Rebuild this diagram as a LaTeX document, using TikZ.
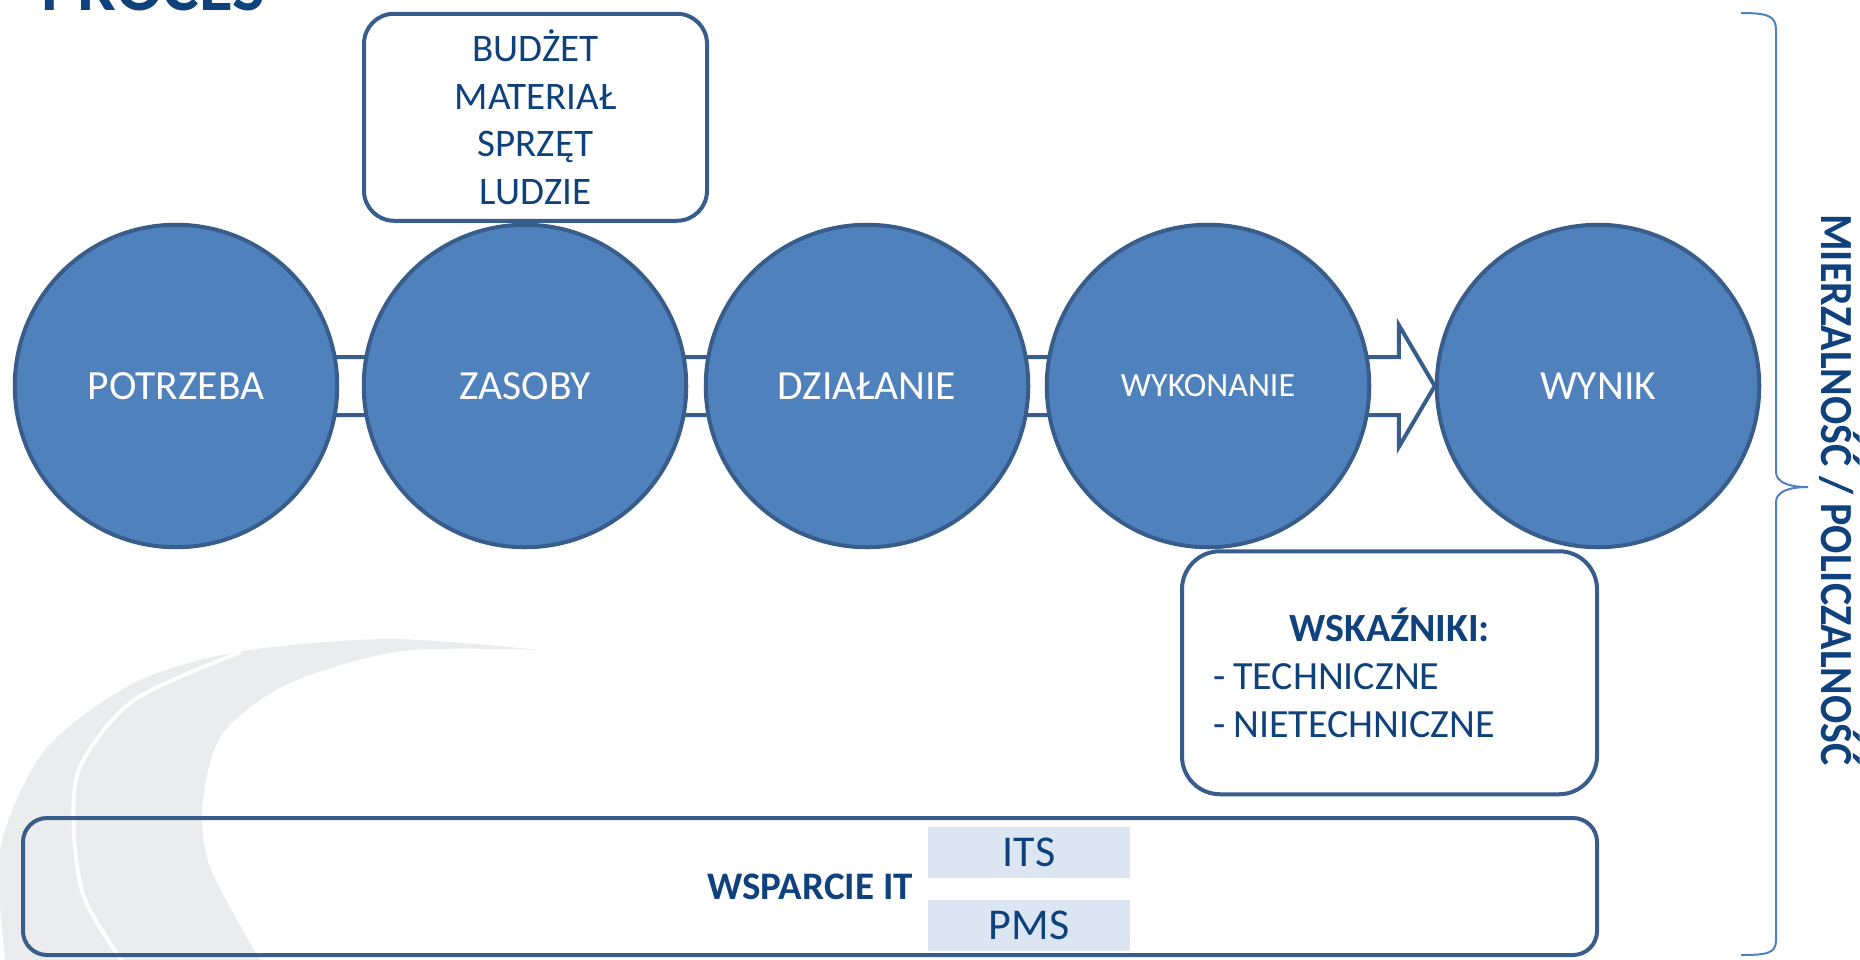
\documentclass[tikz,border=0pt]{standalone}
\usepackage{graphicx}
\usepackage{fontspec}
\setmainfont{Carlito}
\usetikzlibrary{
    positioning,   % For relative positioning (right=of ...)
    backgrounds,   % To draw the arrow behind the circles
    calc           % For shifted anchors
}

\definecolor{stagefill}{HTML}{4F81BD}
\definecolor{stageline}{HTML}{385D8A}
\definecolor{textblue}{HTML}{0F417D}
\definecolor{cellfill}{HTML}{DCE6F2}
\definecolor{swooshgray}{HTML}{EBECEE}

\begin{document}
\begin{tikzpicture}[
    x=1pt, y=-1pt,
    % Define styles
    stage/.style={circle, draw=stageline, line width=4pt, fill=stagefill, minimum size=322.5pt, inner sep=0pt, text=white, font=\fontsize{41.5}{50}\selectfont}, % Process step
    infobox/.style={rectangle, draw=stageline, line width=4pt, fill=white, rounded corners=30pt, text=textblue, inner sep=0pt, font=\fontsize{40}{48}\selectfont}, % Text box
    cell/.style={rectangle, fill=cellfill, minimum width=202pt, minimum height=51pt, inner sep=0pt, text=textblue, font=\fontsize{44}{50}\selectfont}, % IT system
    flowarrow/.style={draw=stageline, line width=4pt, fill=white, line join=miter}, % Block arrow
    bracket/.style={draw=stagefill, line width=2pt} % Curly bracket
]

\useasboundingbox (0,0) rectangle (1860,959);
\clip (0,0) rectangle (1860,959);

% ----- BACKGROUND SWOOSH -----
\fill[swooshgray] plot[smooth] coordinates {(6,965) (0,850) (45,750) (134,683) (237,652) (388,639) (540,650)}
    -- plot[smooth] coordinates {(540,650) (402,651) (290,683) (223,733) (203,800) (210,867) (263,965)} -- cycle;
\draw[white, line width=4pt] plot[smooth] coordinates {(241,652) (134,700) (80,767) (74,833) (85,900) (125,965)};

% ----- TITLE -----
\node (title) [anchor=base west, inner sep=0pt, text=textblue, font=\fontsize{69}{72}\selectfont\bfseries] at (41,10) {PROCES};

% ----- PROCESS STAGES -----
\node (potrzeba)  [stage] at (176,386) {POTRZEBA};
\node (zasoby)    [stage, right=22.5pt of potrzeba] {ZASOBY};
\node (dzialanie) [stage, right=15.5pt of zasoby] {DZIAŁANIE};
\node (wykonanie) [stage, right=14.5pt of dzialanie] {\fontsize{34}{40}\selectfont WYKONANIE};
\node (wynik)     [stage, right=63.5pt of wykonanie] {WYNIK};

% Block arrow behind the stages
\begin{pgfonlayer}{background}
    \draw [flowarrow] ($(potrzeba.center)+(0,-29)$) -- ($(wynik.west)+(-36,-29)$) -- ($(wynik.west)+(-36,-61)$)
        -- (wynik.west) -- ($(wynik.west)+(-36,61)$) -- ($(wynik.west)+(-36,29)$) -- ($(potrzeba.center)+(0,29)$) -- cycle;
\end{pgfonlayer}

% ----- BOXES -----
\node (resources) [infobox, minimum width=343pt, minimum height=207pt, align=center, font=\fontsize{39}{47.7}\selectfont, above=0pt of zasoby, xshift=10.5pt] {BUDŻET\\MATERIAŁ\\SPRZĘT\\LUDZIE};
\node (indicators) [infobox, rounded corners=38pt, minimum width=415pt, minimum height=243pt, text width=353pt, align=left, below=0pt of wykonanie, xshift=181.5pt] {\makebox[353pt]{\bfseries WSKAŹNIKI:}\\-\hspace{8pt}TECHNICZNE\\-\hspace{8pt}NIETECHNICZNE};
\node (itsupport) [infobox, fill=none, rounded corners=24pt, minimum width=1574pt, minimum height=137pt, font=\fontsize{39}{45}\selectfont\bfseries] at (810,886.5) {WSPARCIE IT};
\node (its) [cell] at ($(itsupport.center)+(219,-34)$) {ITS};
\node (pms) [cell] at ($(itsupport.center)+(219,38.5)$) {PMS};

% ----- MEASURABILITY BRACKET -----
\draw [bracket] (1741,13) .. controls (1768,13) and (1776,16) .. (1776,30) -- (1776,472)
    .. controls (1776,482) and (1788,487) .. (1808,487) .. controls (1788,487) and (1776,492) .. (1776,502)
    -- (1776,940) .. controls (1776,953) and (1768,955) .. (1741,955);
\node (measure) [rotate=-90, anchor=base, inner sep=0pt, text=textblue, font=\fontsize{46}{50}\selectfont\bfseries] at (1821,490) {\scalebox{0.91}[1]{MIERZALNOŚĆ / POLICZALNOŚĆ}};

\end{tikzpicture}
\end{document}
